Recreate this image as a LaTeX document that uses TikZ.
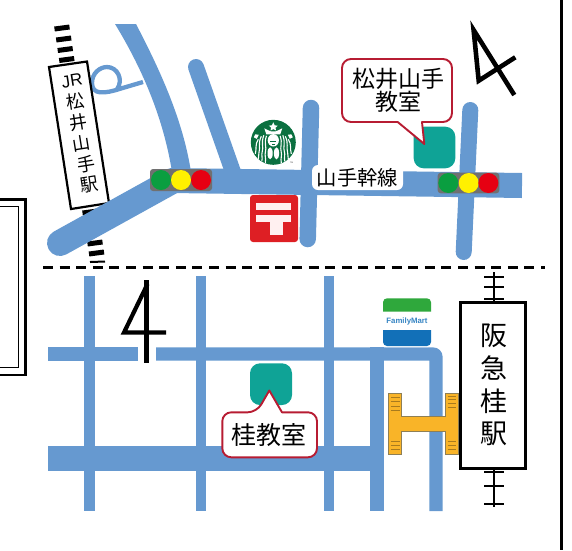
\documentclass[tikz,border=0pt]{standalone}
\usepackage{fontspec}
\setsansfont{Liberation Sans}
\newfontfamily\jp{Noto Sans CJK JP}
\definecolor{roadc}{HTML}{6699D0}
\definecolor{tealc}{HTML}{0FA396}
\definecolor{calloutc}{HTML}{B71C32}
\definecolor{postc}{HTML}{DE1F24}
\definecolor{sbux}{HTML}{0B7040}
\definecolor{tlgray}{HTML}{707070}
\definecolor{tlgreen}{HTML}{0A9E40}
\definecolor{tlyellow}{HTML}{FFF100}
\definecolor{tlred}{HTML}{E60012}
\definecolor{fmgreen}{HTML}{2FA83C}
\definecolor{fmblue}{HTML}{1270B8}
\definecolor{hfill}{HTML}{F9B428}
\definecolor{hedge}{HTML}{8E7F55}
\definecolor{hline}{HTML}{A87A1E}
\tikzset{
  roadline/.style={draw=roadc,line cap=round},
  roadfill/.style={fill=roadc},
  tie/.style={line width=5pt,black},
  hankyutie/.style={line width=2.2pt,black},
  callout/.style={draw=calloutc,line width=1.9pt,fill=white,line join=round},
  teal/.style={fill=tealc,rounded corners=10pt},
  jplabel/.style={inner sep=0pt,font=\jp},
  hstripe/.style={line width=.8pt,hline},
}
\begin{document}
\begin{tikzpicture}[x=1pt,y=-1pt]
\useasboundingbox (0,0) rectangle (572,550);
% frame pieces
\draw[line width=3.2pt] (561.7,0) -- (561.7,550);
\draw[line width=2.4pt] (-2,199.5) -- (25.4,199.5) -- (25.4,375) -- (-2,375);
\draw[line width=1.2pt] (-2,206.7) -- (18.7,206.7) -- (18.7,367.5) -- (-2,367.5);
% JR rail
\foreach \tx/\ty in {62/28,63.7/39,65.2/49.5,66.7/59.5,90/212,93/233,95/243,96.5/253}
  \draw[tie] (\tx-7.5,\ty+1) -- (\tx+7.5,\ty-1);
\draw[tie,line width=2pt] (90,262) -- (105,261.5);
% loop road
\draw[draw=roadc,line width=4.3pt,line join=round] (143,82) -- (121,88.5) .. controls (104,94) and (92,95) .. (92,83) .. controls (92,73) and (100,67) .. (107,67) .. controls (117,67) and (124,79) .. (117,89.5);
% JR station
\draw[line width=2.2pt,fill=white] (49,67) -- (87,61.5) -- (109,203) -- (71,209) -- cycle;
\node[inner sep=0pt,font=\sffamily\fontsize{17}{17}\selectfont,rotate=9] (jr1) at (72,81) {JR};
\node[jplabel,rotate=9] (jr2) at (75,101.5) {\fontsize{18}{18}\selectfont 松};
\node[jplabel,rotate=9] (jr3) at (78.3,122.5) {\fontsize{18}{18}\selectfont 井};
\node[jplabel,rotate=9] (jr4) at (81.7,143.5) {\fontsize{18}{18}\selectfont 山};
\node[jplabel,rotate=9] (jr5) at (86,164) {\fontsize{18}{18}\selectfont 手};
\node[jplabel,rotate=9] (jr6) at (89.3,184.5) {\fontsize{18}{18}\selectfont 駅};
% upper roads
\draw[roadline,line width=26pt] (60,243) -- (172,181);
\draw[draw=roadc,line width=25pt] (172,180.5) -- (522,185.5);
\fill[roadfill] (115,24) -- (136,24) .. controls (160,70) and (183,120) .. (191,172) -- (172,172) .. controls (163,115) and (140,65) .. (115,24) -- cycle;
\draw[roadline,line width=16pt] (196,67) -- (233,172);
\draw[roadline,line width=16.5pt] (311,108) -- (307.7,239);
\draw[roadline,line width=16pt] (470.3,110) -- (463.7,252);
% traffic lights
\fill[tlgray,rounded corners=3pt] (150,169) rectangle (212,191);
\fill[tlgreen] (161,180) circle (10);
\fill[tlyellow] (181,180) circle (10);
\fill[tlred] (201,180) circle (10);
\fill[tlgray,rounded corners=3pt] (437.7,172.7) rectangle (499.3,193.3);
\fill[tlgreen] (448.3,183) circle (10);
\fill[tlyellow] (468.7,183) circle (10);
\fill[tlred] (488.3,183) circle (10);
% Starbucks
\begin{scope}[shift={(273.3,142.3)}]
  \fill[sbux] (0,0) circle (22.5);
  \fill[white] (0,-20) -- (1.4,-17) -- (4.4,-16.6) -- (2.2,-14.6) -- (2.8,-11.8) -- (0,-13.2) -- (-2.8,-11.8) -- (-2.2,-14.6) -- (-4.4,-16.6) -- (-1.4,-17) -- cycle;
  \fill[white] (-9,-14) -- (-5,-12) -- (-2.5,-11) -- (2.5,-11) -- (5,-12) -- (9,-14) -- (7,-8) -- (-7,-8) -- cycle;
  \fill[white] (0,-2) ellipse (5.6 and 6.2);
  \foreach \s in {-1,1}{
    \draw[white,line width=1.1pt] (\s*6.8,-6.5) .. controls (\s*9.5,1) and (\s*6.5,5) .. (\s*7.8,9) .. controls (\s*9,13) and (\s*7,16) .. (\s*8,20.5);
    \draw[white,line width=1.1pt] (\s*9.5,-7) .. controls (\s*12.5,1) and (\s*9.5,5) .. (\s*11,9) .. controls (\s*12.2,13) and (\s*10.5,15) .. (\s*11.5,19);
    \draw[white,line width=1.1pt] (\s*12,-6) .. controls (\s*15.5,1) and (\s*12.8,6) .. (\s*14.3,10) .. controls (\s*15.3,13) and (\s*14.3,14) .. (\s*15,17);
    \draw[white,line width=1.1pt] (\s*15,-3) .. controls (\s*18.5,2) and (\s*16.5,7) .. (\s*18,11.5);
    \fill[white] (\s*18,-8) -- (\s*14.5,-7.5) -- (\s*16.5,-3.5) -- (\s*19.5,-5) -- cycle;
    \fill[white] (\s*3.2,11) ellipse (2.6 and 6);
  }
  \fill[sbux] (-3,-1.5) rectangle (3,-0.7);
  \fill[sbux] (-1.6,2) rectangle (1.6,2.8);
\end{scope}
\node[inner sep=0pt,font=\sffamily\fontsize{3.5}{3.5}\selectfont,text=black!70] (tm) at (291.5,163.5) {™};
% post office
\fill[postc,rounded corners=3pt] (250,195) rectangle (298,242);
\fill[white!94!red] (256,202.7) rectangle (291,209.5);
\fill[white!94!red] (256,215) rectangle (291,221.7);
\fill[white!94!red] (270,221.7) rectangle (283.3,235);
% label
\node[jplabel,fill=white,rounded corners=6pt,minimum width=91pt,minimum height=25pt] (kansen) at (357.5,177.5) {\fontsize{20.3}{20.3}\selectfont 山手幹線};
% classroom upper
\fill[teal] (413.7,126.7) rectangle (455.3,168.3);
\draw[callout] (424.3,144) -- (397.7,122) [rounded corners=9pt] -- (342,122) -- (342,59) -- (452,59) -- (452,122) [sharp corners] -- (422,122) -- cycle;
\node[jplabel] (mlabel1) at (398.3,79) {\fontsize{23}{23}\selectfont 松井山手};
\node[jplabel] (mlabel2) at (398.3,101.7) {\fontsize{23}{23}\selectfont 教室};
% north upper
\draw[line width=4.6pt,line join=miter] (514.3,95) -- (473.6,30) -- (478.7,80.7) -- (515.3,57.3);
% dashed divider
\draw[line width=2.2pt,dash pattern=on 10pt off 6.6pt] (43,267.5) -- (545,267.5);
% lower roads
\fill[roadfill] (84.3,276) rectangle (94.7,511);
\fill[roadfill] (196,276) rectangle (206.3,511);
\fill[roadfill] (323.7,276) rectangle (334,511);
\fill[roadfill] (370.3,347.3) rectangle (383.7,511);
\fill[roadfill] (48,347.3) rectangle (137.7,360.7);
\fill[roadfill] (156,347.3) -- (432.7,347.3) .. controls (438.5,347.3) and (442.7,351.5) .. (442.7,357.3) -- (442.7,511) -- (429.3,511) -- (429.3,360.7) -- (156,360.7) -- cycle;
\fill[roadfill] (48,445.7) rectangle (383.7,470.7);
% north lower
\draw[line width=5pt] (146.7,280) -- (146.7,362.7);
\draw[line width=4.2pt,line join=miter] (147.5,284) -- (124,332.5) -- (166,332.5);
% classroom lower
\fill[teal] (250,363.3) rectangle (292,405);
\draw[callout] (269.3,390.5) -- (282,412.3) [rounded corners=9pt] -- (317,412.3) -- (317,457.3) -- (222.3,457.3) -- (222.3,412.3) -- (256.7,412.3) [sharp corners] -- cycle;
\node[jplabel] (klabel) at (268.5,435) {\fontsize{25}{25}\selectfont 桂教室};
% FamilyMart
\fill[white,rounded corners=4pt] (382,297.3) rectangle (432,347);
\fill[fmgreen] (383,311.7) [rounded corners=4pt] -- (383,298.3) -- (431,298.3) [sharp corners] -- (431,311.7) -- cycle;
\fill[fmblue] (383,330) [rounded corners=4pt] -- (383,346) -- (431,346) [sharp corners] -- (431,330) -- cycle;
\node[inner sep=0pt,text=fmblue!85!white,font=\sffamily\bfseries\fontsize{7.8}{7.8}\selectfont] (fm) at (407,321) {FamilyMart};
% stairs H
\draw[fill=hfill,draw=hedge,line width=.8pt] (388.3,393.3) -- (401.7,393.3) -- (401.7,416.3) -- (445.3,416.3) -- (445.3,393.3) -- (458,393.3) -- (458,454.3) -- (445.3,454.3) -- (445.3,431) -- (401.7,431) -- (401.7,454.3) -- (388.3,454.3) -- cycle;
\foreach \yy in {397,401.5,406,410}
  \draw[hstripe] (390.5,\yy) -- (399.5,\yy);
\foreach \yy in {441,445,449.5}
  \draw[hstripe] (390.5,\yy) -- (399.5,\yy);
\foreach \yy in {396,399.5,403,407}
  \draw[hstripe] (447.5,\yy) -- (456,\yy);
\foreach \yy in {441,445,449.5}
  \draw[hstripe] (447.5,\yy) -- (456,\yy);
% Hankyu track and station
\draw[hankyutie] (494.3,272) -- (494.3,507);
\foreach \yy in {276.7,286.7,299,471.7,485.7,504}
  \draw[hankyutie] (484,\yy) -- (504.3,\yy);
\draw[line width=2.6pt,fill=white] (460.3,302.3) rectangle (525.7,468.7);
\node[jplabel] (h1) at (493.7,335.7) {\fontsize{27}{27}\selectfont 阪};
\node[jplabel] (h2) at (493.7,368.3) {\fontsize{27}{27}\selectfont 急};
\node[jplabel] (h3) at (493.7,401) {\fontsize{27}{27}\selectfont 桂};
\node[jplabel] (h4) at (493.7,434) {\fontsize{27}{27}\selectfont 駅};
\end{tikzpicture}
\end{document}
